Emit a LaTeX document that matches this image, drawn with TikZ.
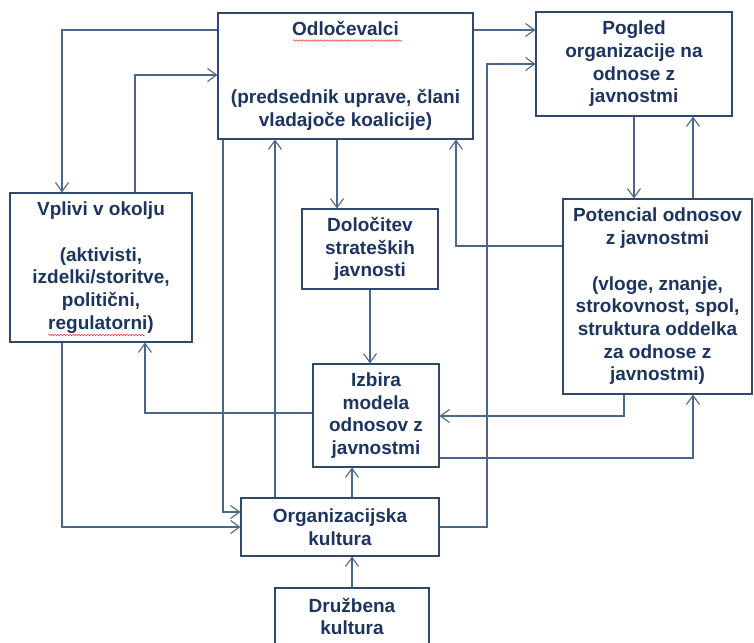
\documentclass[tikz,border=0pt]{standalone}
\usepackage{fontspec}
\setmainfont{Liberation Sans}
\usetikzlibrary{arrows.meta, decorations.pathmorphing}

\definecolor{boxc}{RGB}{47,72,110}
\definecolor{linec}{RGB}{74,102,140}
\definecolor{txtc}{RGB}{28,52,96}

\begin{document}
\begin{tikzpicture}[x=1pt, y=-1pt, >={Straight Barb[length=9pt,width=13pt]},
    box/.style={draw=boxc, line width=1.1pt, text=txtc, align=center, inner sep=0pt,
        font=\bfseries\fontsize{19}{22.7}\selectfont},
    arr/.style={->, draw=linec, line width=1.1pt},
    spell/.style={draw=red!80, line width=0.5pt, decorate,
        decoration={snake, segment length=3pt, amplitude=0.8pt}}]
        \useasboundingbox (0,0) rectangle (754,642);
        \clip (0,0) rectangle (754,642);

        \node[box, minimum width=255pt, minimum height=126pt] (odl) at (345.5,76)
            {Odločevalci\\[45.4pt](predsednik uprave, člani\\vladajoče koalicije)};
        \node[box, minimum width=196pt, minimum height=104pt] (pog) at (634,64)
            {Pogled\\organizacije na\\odnose z\\javnostmi};
        \node[box, minimum width=182pt, minimum height=149pt] (vpl) at (101,267.5)
            {Vplivi v okolju\\[22.7pt](aktivisti,\\izdelki/storitve,\\politični,\\regulatorni)};
        \node[box, minimum width=189pt, minimum height=195pt] (pot) at (657.5,296.5)
            {Potencial odnosov\\z javnostmi\\[22.7pt](vloge, znanje,\\strokovnost, spol,\\struktura oddelka\\za odnose z\\javnostmi)};
        \node[box, minimum width=126pt, minimum height=103pt] (izb) at (376,415.5)
            {Izbira\\modela\\odnosov z\\javnostmi};
        \node[box, minimum width=136pt, minimum height=80pt] (dol)
            [above of = izb, node distance=166.5pt, xshift=-6pt]
            {Določitev\\strateških\\javnosti};
        \node[box, minimum width=198pt, minimum height=58pt] (org) at (340,527)
            {Organizacijska\\kultura};
        \node[box, minimum width=154pt, minimum height=57pt] (dru)
            [below of = org, node distance=89.5pt, xshift=12pt]
            {Družbena\\kultura};

        % spell-check marks
        \draw[spell] (293,40.5) -- (402,40.5);
        \draw[spell] (48,335) -- (145,335);

        \draw[arr] (odl.west |- 0,30) -| (62,0 |- vpl.north);
        \draw[arr] (135,0 |- vpl.north) |- (odl.west |- 0,75);
        \draw[arr] (odl.east |- 0,30) -- (pog.west |- 0,30);
        \draw[arr] (org.east) -- (487,0 |- org.east) |- (pog.west);
        \draw[arr] (pog.south) -- (pog.south |- pot.north);
        \draw[arr] (693,0 |- pot.north) -- (693,0 |- pog.south);
        \draw[arr] (pot.west |- 0,246) -| (456,0 |- odl.south);
        \draw[arr] (337,0 |- odl.south) -- (337,0 |- dol.north);
        \draw[arr] (dol.south) -- (dol.south |- izb.north);
        \draw[arr] (223,0 |- odl.south) |- (org.west |- 0,512);
        \draw[arr] (275,0 |- org.north) -- (275,0 |- odl.south);
        \draw[arr] (62,0 |- vpl.south) |- (org.west);
        \draw[arr] (izb.west |- 0,413) -| (145,0 |- vpl.south);
        \draw[arr] (624,0 |- pot.south) |- (izb.east |- 0,416);
        \draw[arr] (izb.east |- 0,458) -| (693,0 |- pot.south);
        \draw[arr] (352,0 |- org.north) -- (352,0 |- izb.south);
        \draw[arr] (dru.north) -- (dru.north |- org.south);
\end{tikzpicture}
\end{document}
